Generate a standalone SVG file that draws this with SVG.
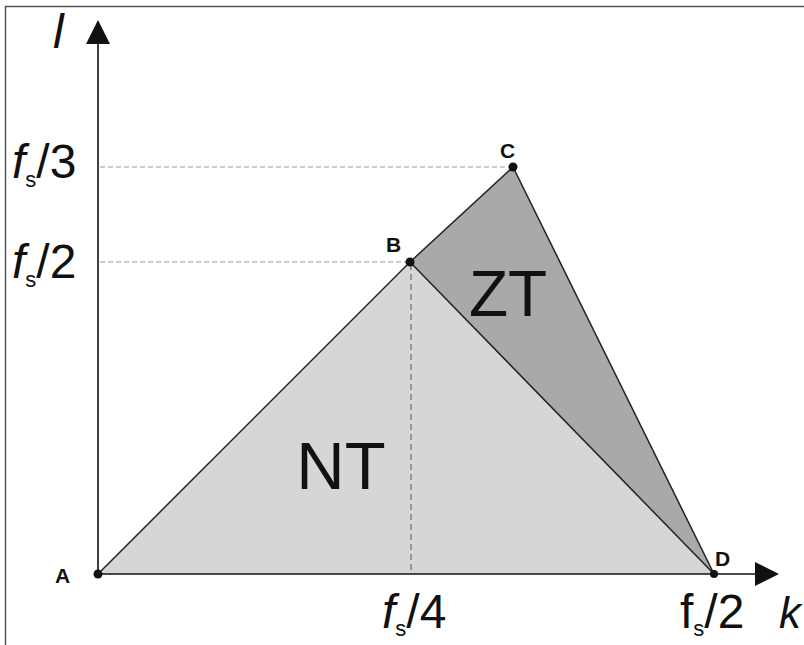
<svg xmlns="http://www.w3.org/2000/svg" width="804" height="645" viewBox="0 0 804 645">
<defs>
<style>
.t{font-family:"Liberation Sans",Arial,sans-serif;fill:#111}
.big{font-size:48px}
.pt{font-size:21px;font-weight:bold}
.dash{stroke:#999;stroke-width:1;stroke-dasharray:5,3;fill:none}
.vdash{stroke:#555;stroke-width:1;stroke-dasharray:6,4;fill:none}
.ax{stroke:#111;stroke-width:1.6;fill:none}
.edge{stroke:#222;stroke-width:1.5;fill:none}
</style>
</defs>
<rect x="0" y="0" width="804" height="645" fill="#fff"/>
<rect x="5.5" y="6.5" width="800" height="640" fill="none" stroke="#555" stroke-width="1.5"/>
<g id="regions">
<polygon id="NT-region" points="98,574 410,262 714,574" fill="#d6d6d6"/>
<polygon id="ZT-region" points="410,262 513,167 714,574" fill="#a9a9a9"/>
</g>
<g id="connectors">
<line class="dash" x1="100" y1="167" x2="513" y2="167"/>
<line class="dash" x1="100" y1="262" x2="410" y2="262"/>
<line class="vdash" x1="411" y1="264" x2="411" y2="573"/>
<line class="ax" x1="98" y1="574" x2="98" y2="22"/>
<polygon points="98,20 86,44 110,44" fill="#111"/>
<line class="ax" x1="98" y1="574" x2="757" y2="574"/>
<polygon points="779,574 755,562 755,586" fill="#111"/>
<line class="edge" x1="98" y1="574" x2="410" y2="262"/>
<line class="edge" x1="410" y1="262" x2="513" y2="167"/>
<line class="edge" x1="513" y1="167" x2="714" y2="574"/>
<line class="edge" x1="410" y1="262" x2="714" y2="574"/>
</g>
<g id="A"><circle cx="98" cy="574" r="4.5" fill="#111"/><text class="t pt" x="55" y="583">A</text></g>
<g id="B"><circle cx="410" cy="262" r="4.5" fill="#111"/><text class="t pt" x="386" y="252">B</text></g>
<g id="C"><circle cx="513" cy="167" r="4.5" fill="#111"/><text class="t pt" x="500" y="158">C</text></g>
<g id="D"><circle cx="714" cy="574" r="4" fill="#111"/><text class="t pt" x="715" y="566">D</text></g>
<g id="NT"><text class="t" x="341" y="489" font-size="67" text-anchor="middle">NT</text></g>
<g id="ZT"><text class="t" x="508" y="316" font-size="64" text-anchor="middle">ZT</text></g>
<g id="labels">
<text class="t big" x="53" y="48" font-style="italic">l</text>
<text class="t big" x="12" y="178"><tspan font-style="italic">f</tspan><tspan font-size="22" dy="9">s</tspan><tspan dy="-9">/3</tspan></text>
<text class="t big" x="12" y="278"><tspan font-style="italic">f</tspan><tspan font-size="22" dy="9">s</tspan><tspan dy="-9">/2</tspan></text>
<text class="t big" x="382" y="628"><tspan font-style="italic">f</tspan><tspan font-size="22" dy="8">s</tspan><tspan dy="-8">/4</tspan></text>
<text class="t big" x="680" y="628"><tspan>f</tspan><tspan font-size="22" dy="8">s</tspan><tspan dy="-8">/2</tspan></text>
<text class="t" x="779" y="628" font-size="44" font-style="italic">k</text>
</g>
</svg>
